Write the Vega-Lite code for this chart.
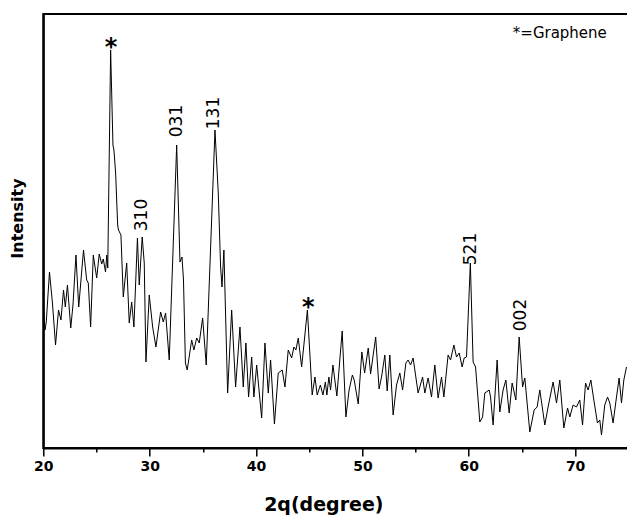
{
  "$schema": "https://vega.github.io/schema/vega-lite/v6.json",
  "width": 585,
  "height": 434,
  "autosize": {"type": "none"},
  "padding": {"left": 43.3, "top": 14, "right": 0, "bottom": 69},
  "background": "white",
  "config": {
    "view": {"stroke": "black", "strokeWidth": 2},
    "font": "DejaVu Sans"
  },
  "datasets": {
    "xrd": [
      {"two_theta": 20.00, "intensity": 143}, {"two_theta": 20.16, "intensity": 118}, {"two_theta": 20.28, "intensity": 126},
      {"two_theta": 20.58, "intensity": 176}, {"two_theta": 20.86, "intensity": 145}, {"two_theta": 21.15, "intensity": 103},
      {"two_theta": 21.43, "intensity": 138}, {"two_theta": 21.66, "intensity": 128}, {"two_theta": 21.90, "intensity": 158},
      {"two_theta": 22.07, "intensity": 141}, {"two_theta": 22.27, "intensity": 163}, {"two_theta": 22.58, "intensity": 120},
      {"two_theta": 22.79, "intensity": 143}, {"two_theta": 23.07, "intensity": 193}, {"two_theta": 23.33, "intensity": 141},
      {"two_theta": 23.78, "intensity": 198}, {"two_theta": 24.08, "intensity": 168}, {"two_theta": 24.23, "intensity": 165},
      {"two_theta": 24.45, "intensity": 121}, {"two_theta": 24.70, "intensity": 193}, {"two_theta": 25.02, "intensity": 170},
      {"two_theta": 25.26, "intensity": 194}, {"two_theta": 25.49, "intensity": 184}, {"two_theta": 25.64, "intensity": 189},
      {"two_theta": 25.85, "intensity": 176}, {"two_theta": 25.97, "intensity": 193}, {"two_theta": 26.06, "intensity": 180},
      {"two_theta": 26.33, "intensity": 398}, {"two_theta": 26.55, "intensity": 303}, {"two_theta": 26.64, "intensity": 298},
      {"two_theta": 26.80, "intensity": 275}, {"two_theta": 26.99, "intensity": 223}, {"two_theta": 27.07, "intensity": 218},
      {"two_theta": 27.30, "intensity": 213}, {"two_theta": 27.52, "intensity": 151}, {"two_theta": 27.84, "intensity": 185},
      {"two_theta": 28.08, "intensity": 125}, {"two_theta": 28.31, "intensity": 146}, {"two_theta": 28.52, "intensity": 121},
      {"two_theta": 28.85, "intensity": 210}, {"two_theta": 29.02, "intensity": 163}, {"two_theta": 29.30, "intensity": 211},
      {"two_theta": 29.49, "intensity": 185}, {"two_theta": 29.65, "intensity": 86}, {"two_theta": 29.96, "intensity": 153},
      {"two_theta": 30.28, "intensity": 121}, {"two_theta": 30.59, "intensity": 101}, {"two_theta": 31.03, "intensity": 136},
      {"two_theta": 31.28, "intensity": 126}, {"two_theta": 31.50, "intensity": 135}, {"two_theta": 31.84, "intensity": 88},
      {"two_theta": 32.54, "intensity": 303}, {"two_theta": 32.85, "intensity": 186}, {"two_theta": 33.04, "intensity": 191},
      {"two_theta": 33.18, "intensity": 168}, {"two_theta": 33.36, "intensity": 85}, {"two_theta": 33.53, "intensity": 78},
      {"two_theta": 33.95, "intensity": 108}, {"two_theta": 34.16, "intensity": 98}, {"two_theta": 34.42, "intensity": 110},
      {"two_theta": 34.66, "intensity": 105}, {"two_theta": 34.98, "intensity": 130}, {"two_theta": 35.32, "intensity": 83},
      {"two_theta": 36.14, "intensity": 318}, {"two_theta": 36.45, "intensity": 255}, {"two_theta": 36.67, "intensity": 181},
      {"two_theta": 36.80, "intensity": 161}, {"two_theta": 36.98, "intensity": 198}, {"two_theta": 37.33, "intensity": 55},
      {"two_theta": 37.71, "intensity": 138}, {"two_theta": 38.08, "intensity": 61}, {"two_theta": 38.49, "intensity": 121},
      {"two_theta": 38.80, "intensity": 61}, {"two_theta": 39.05, "intensity": 105}, {"two_theta": 39.30, "intensity": 51},
      {"two_theta": 39.59, "intensity": 91}, {"two_theta": 39.80, "intensity": 51}, {"two_theta": 40.06, "intensity": 83},
      {"two_theta": 40.53, "intensity": 30}, {"two_theta": 40.84, "intensity": 105}, {"two_theta": 41.15, "intensity": 55},
      {"two_theta": 41.37, "intensity": 88}, {"two_theta": 41.73, "intensity": 24}, {"two_theta": 42.09, "intensity": 75},
      {"two_theta": 42.46, "intensity": 78}, {"two_theta": 42.72, "intensity": 61}, {"two_theta": 43.03, "intensity": 98},
      {"two_theta": 43.35, "intensity": 90}, {"two_theta": 43.56, "intensity": 101}, {"two_theta": 43.75, "intensity": 98},
      {"two_theta": 43.97, "intensity": 110}, {"two_theta": 44.29, "intensity": 81}, {"two_theta": 44.83, "intensity": 138},
      {"two_theta": 45.28, "intensity": 53}, {"two_theta": 45.54, "intensity": 71}, {"two_theta": 45.75, "intensity": 53},
      {"two_theta": 46.05, "intensity": 63}, {"two_theta": 46.29, "intensity": 53}, {"two_theta": 46.52, "intensity": 66},
      {"two_theta": 46.66, "intensity": 53}, {"two_theta": 46.85, "intensity": 71}, {"two_theta": 47.01, "intensity": 58},
      {"two_theta": 47.23, "intensity": 83}, {"two_theta": 47.60, "intensity": 52}, {"two_theta": 48.10, "intensity": 117},
      {"two_theta": 48.45, "intensity": 31}, {"two_theta": 48.75, "intensity": 58}, {"two_theta": 49.06, "intensity": 73},
      {"two_theta": 49.23, "intensity": 68}, {"two_theta": 49.61, "intensity": 44}, {"two_theta": 49.95, "intensity": 96},
      {"two_theta": 50.21, "intensity": 75}, {"two_theta": 50.55, "intensity": 100}, {"two_theta": 50.77, "intensity": 74},
      {"two_theta": 51.25, "intensity": 111}, {"two_theta": 51.57, "intensity": 59}, {"two_theta": 51.80, "intensity": 71},
      {"two_theta": 52.11, "intensity": 93}, {"two_theta": 52.33, "intensity": 57}, {"two_theta": 52.58, "intensity": 93},
      {"two_theta": 52.89, "intensity": 33}, {"two_theta": 53.21, "intensity": 63}, {"two_theta": 53.52, "intensity": 75},
      {"two_theta": 53.78, "intensity": 58}, {"two_theta": 54.09, "intensity": 85}, {"two_theta": 54.30, "intensity": 88},
      {"two_theta": 54.53, "intensity": 83}, {"two_theta": 54.77, "intensity": 90}, {"two_theta": 55.24, "intensity": 55},
      {"two_theta": 55.66, "intensity": 71}, {"two_theta": 55.87, "intensity": 55}, {"two_theta": 56.18, "intensity": 70},
      {"two_theta": 56.50, "intensity": 51}, {"two_theta": 56.81, "intensity": 83}, {"two_theta": 57.12, "intensity": 50},
      {"two_theta": 57.44, "intensity": 71}, {"two_theta": 57.66, "intensity": 51}, {"two_theta": 58.06, "intensity": 93},
      {"two_theta": 58.29, "intensity": 88}, {"two_theta": 58.60, "intensity": 103}, {"two_theta": 58.85, "intensity": 91},
      {"two_theta": 59.10, "intensity": 95}, {"two_theta": 59.38, "intensity": 81}, {"two_theta": 59.57, "intensity": 90},
      {"two_theta": 59.79, "intensity": 91}, {"two_theta": 60.15, "intensity": 185}, {"two_theta": 60.41, "intensity": 86},
      {"two_theta": 60.64, "intensity": 81}, {"two_theta": 61.04, "intensity": 26}, {"two_theta": 61.30, "intensity": 31},
      {"two_theta": 61.51, "intensity": 55}, {"two_theta": 61.92, "intensity": 58}, {"two_theta": 62.05, "intensity": 51},
      {"two_theta": 62.29, "intensity": 23}, {"two_theta": 62.67, "intensity": 88}, {"two_theta": 62.92, "intensity": 36},
      {"two_theta": 63.23, "intensity": 58}, {"two_theta": 63.49, "intensity": 68}, {"two_theta": 63.80, "intensity": 35},
      {"two_theta": 64.08, "intensity": 65}, {"two_theta": 64.43, "intensity": 48}, {"two_theta": 64.74, "intensity": 111},
      {"two_theta": 65.06, "intensity": 61}, {"two_theta": 65.27, "intensity": 70}, {"two_theta": 65.74, "intensity": 16},
      {"two_theta": 66.15, "intensity": 38}, {"two_theta": 66.43, "intensity": 41}, {"two_theta": 66.68, "intensity": 58},
      {"two_theta": 67.15, "intensity": 23}, {"two_theta": 67.46, "intensity": 41}, {"two_theta": 67.93, "intensity": 66},
      {"two_theta": 68.25, "intensity": 45}, {"two_theta": 68.56, "intensity": 68}, {"two_theta": 68.94, "intensity": 20},
      {"two_theta": 69.29, "intensity": 40}, {"two_theta": 69.50, "intensity": 31}, {"two_theta": 69.81, "intensity": 43},
      {"two_theta": 70.13, "intensity": 41}, {"two_theta": 70.44, "intensity": 48}, {"two_theta": 70.70, "intensity": 23},
      {"two_theta": 70.98, "intensity": 65}, {"two_theta": 71.22, "intensity": 58}, {"two_theta": 71.48, "intensity": 68},
      {"two_theta": 71.76, "intensity": 48}, {"two_theta": 72.10, "intensity": 25}, {"two_theta": 72.32, "intensity": 28},
      {"two_theta": 72.48, "intensity": 13}, {"two_theta": 72.79, "intensity": 43}, {"two_theta": 73.05, "intensity": 51},
      {"two_theta": 73.26, "intensity": 45}, {"two_theta": 73.57, "intensity": 25}, {"two_theta": 73.89, "intensity": 51},
      {"two_theta": 74.14, "intensity": 70}, {"two_theta": 74.36, "intensity": 45}, {"two_theta": 74.58, "intensity": 68},
      {"two_theta": 74.83, "intensity": 81}
    ],
    "peaks": [
      {"two_theta": 29.25, "intensity": 233, "label": "310"},
      {"two_theta": 32.61, "intensity": 327, "label": "031"},
      {"two_theta": 36.04, "intensity": 335, "label": "131"},
      {"two_theta": 60.20, "intensity": 199, "label": "521"},
      {"two_theta": 64.90, "intensity": 133, "label": "002"}
    ],
    "stars": [
      {"two_theta": 26.36, "intensity": 393, "label": "*"},
      {"two_theta": 44.91, "intensity": 133, "label": "*"}
    ],
    "note": [
      {"two_theta": 68.56, "intensity": 415, "label": "*=Graphene"}
    ]
  },
  "layer": [
    {
      "data": {"name": "xrd"},
      "mark": {"type": "line", "color": "black", "strokeWidth": 1, "interpolate": "linear"},
      "encoding": {
        "x": {
          "field": "two_theta", "type": "quantitative",
          "scale": {"domain": [20, 75], "nice": false, "zero": false},
          "axis": {
            "orient": "bottom",
            "values": [20, 30, 40, 50, 60, 70],
            "format": "d",
            "grid": false,
            "domainColor": "black", "domainWidth": 2,
            "tickColor": "black", "tickWidth": 1.5, "tickSize": 8,
            "labelFont": "DejaVu Sans", "labelFontWeight": "bold", "labelFontSize": 14,
            "labelColor": "black", "labelPadding": 4, "labelFlush": false,
            "title": "2q(degree)",
            "titleFont": "DejaVu Sans", "titleFontWeight": "bold", "titleFontSize": 19,
            "titleColor": "black", "titleX": 280, "titleY": 63,
            "titleBaseline": "alphabetic", "titleAlign": "center"
          }
        },
        "y": {
          "field": "intensity", "type": "quantitative",
          "scale": {"domain": [0, 434], "nice": false, "zero": false},
          "axis": {
            "ticks": false, "labels": false, "grid": false,
            "domainColor": "black", "domainWidth": 2,
            "title": "Intensity",
            "titleFont": "DejaVu Sans", "titleFontWeight": "bold", "titleFontSize": 16,
            "titleColor": "black", "titleX": -21, "titleY": 204,
            "titleBaseline": "alphabetic", "titleAlign": "center", "titleAngle": 270
          }
        }
      }
    },
    {
      "data": {"name": "peaks"},
      "mark": {"type": "text", "angle": 270, "font": "DejaVu Sans", "fontSize": 17, "align": "center", "baseline": "middle", "color": "black"},
      "encoding": {
        "x": {
          "field": "two_theta", "type": "quantitative",
          "axis": {
            "orient": "bottom", "values": [25, 35, 45, 55, 65],
            "labels": false, "domain": false, "grid": false, "title": null,
            "tickSize": 4, "tickWidth": 1.5, "tickColor": "black"
          }
        },
        "y": {"field": "intensity", "type": "quantitative"},
        "text": {"field": "label", "type": "nominal"}
      }
    },
    {
      "data": {"name": "stars"},
      "mark": {"type": "text", "font": "DejaVu Sans", "fontWeight": "bold", "fontSize": 24, "align": "center", "baseline": "alphabetic", "color": "black"},
      "encoding": {
        "x": {"field": "two_theta", "type": "quantitative", "axis": null},
        "y": {"field": "intensity", "type": "quantitative"},
        "text": {"field": "label", "type": "nominal"}
      }
    },
    {
      "data": {"name": "note"},
      "mark": {"type": "text", "font": "DejaVu Sans", "fontSize": 15, "align": "center", "baseline": "middle", "color": "black"},
      "encoding": {
        "x": {"field": "two_theta", "type": "quantitative", "axis": null},
        "y": {"field": "intensity", "type": "quantitative"},
        "text": {"field": "label", "type": "nominal"}
      }
    }
  ],
  "resolve": {"axis": {"x": "independent"}}
}
